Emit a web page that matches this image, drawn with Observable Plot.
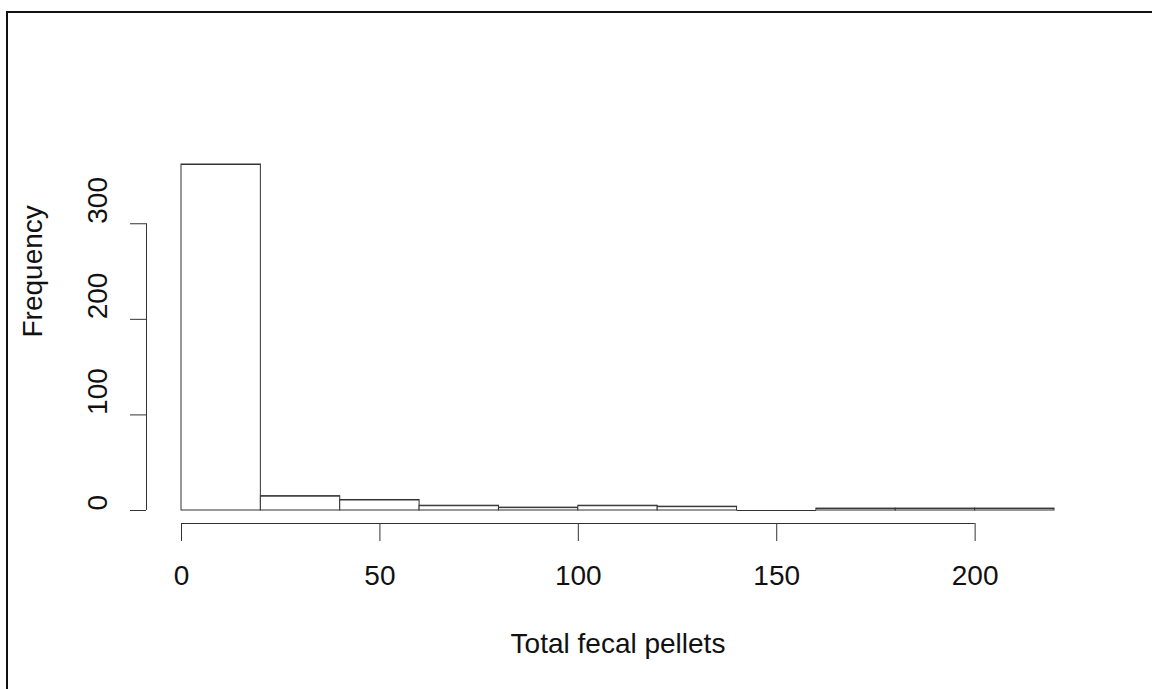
<!DOCTYPE html>
<html>
<head>
<meta charset="utf-8">
<script src="https://cdn.jsdelivr.net/npm/d3@7"></script>
<script src="https://cdn.jsdelivr.net/npm/@observablehq/plot@0.6"></script>
<style>
  html, body { margin: 0; padding: 0; background: #fff; }
  #wrap { position: relative; width: 1152px; height: 689px; overflow: hidden; }
  #border { position: absolute; left: 6px; top: 11px; width: 1200px; height: 800px;
            border-top: 2px solid #111; border-left: 2px solid #111; pointer-events: none; }
  svg { display: block; }
</style>
</head>
<body>
<div id="wrap"><div id="chart"></div><div id="border"></div></div>
<script>
// Histogram bins (Total fecal pellets) and counts
const binStart = [0, 20, 40, 60, 80, 100, 120, 140, 160, 180, 200];
const binEnd   = [20, 40, 60, 80, 100, 120, 140, 160, 180, 200, 220];
const counts   = [362, 15, 11, 5, 3, 5, 4, 0, 2, 2, 2];
const xTicks = [0, 50, 100, 150, 200];
const yTicks = [0, 100, 200, 300];
const xLabel = "Total fecal pellets";
const yLabel = "Frequency";

const bins = binStart.map((s, i) => ({x1: s, x2: binEnd[i], count: counts[i]}));
const xDomain = [binStart[0], binEnd[binEnd.length - 1]];
const yDomain = [0, d3.max(counts)];

const font = "'Liberation Sans', Arial, Helvetica, sans-serif";
const ink = "#333";

const chart = Plot.plot({
  width: 1152,
  height: 689,
  marginLeft: 146,
  marginRight: 98,
  marginTop: 164,
  marginBottom: 166,
  style: {fontFamily: font, color: "#111", background: "white"},
  x: {domain: xDomain, insetLeft: 35},
  y: {domain: yDomain, insetBottom: 13},
  marks: [
    Plot.rectY(bins, {x1: "x1", x2: "x2", y: "count", fill: "white", stroke: ink, strokeWidth: 1}),
    // top edge of every bin (also shows empty bins as a line, like R's hist)
    Plot.ruleY(bins, {x1: "x1", x2: "x2", y: "count", stroke: ink, strokeWidth: 1}),
    // x axis
    Plot.ruleY([0], {x1: () => xTicks[0], x2: () => xTicks[xTicks.length - 1], dy: 13, stroke: ink}),
    Plot.axisX({ticks: xTicks, tickSize: 18, tickPadding: 24, fontSize: 28, label: null, stroke: ink, fill: "#111"}),
    Plot.text([xLabel], {x: () => (xDomain[0] + xDomain[1]) / 2, frameAnchor: "bottom", dy: 110,
      lineAnchor: "top", fontSize: 28, fill: "#111"}),
    // y axis
    Plot.ruleX([0], {y1: () => yTicks[0], y2: () => yTicks[yTicks.length - 1], dx: -35, stroke: ink}),
    Plot.axisY({ticks: yTicks, tickSize: 16, tickFormat: () => "", label: null, stroke: ink}),
    Plot.text(yTicks, {y: d => d, text: d => String(d), frameAnchor: "left", dx: -48, rotate: -90,
      fontSize: 28, fill: "#111"}),
    Plot.text([yLabel], {y: () => (yDomain[0] + yDomain[1]) / 2, frameAnchor: "left", dx: -113, rotate: -90,
      fontSize: 28, fill: "#111"})
  ]
});
document.getElementById("chart").appendChild(chart);
</script>
</body>
</html>
